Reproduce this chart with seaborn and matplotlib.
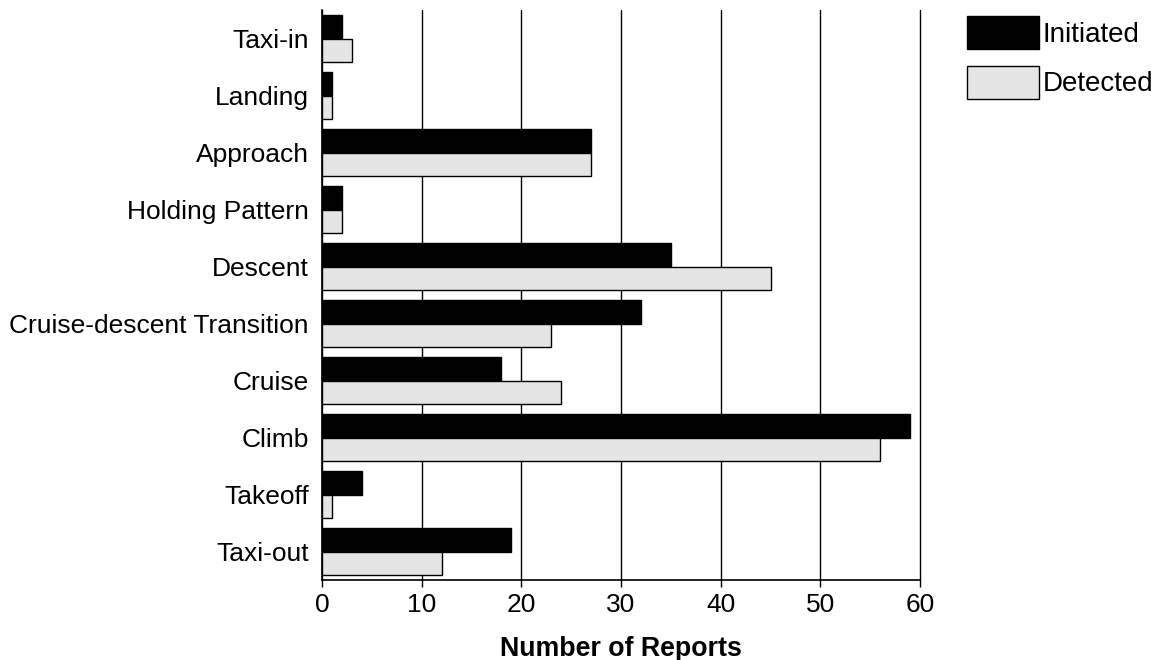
import matplotlib
matplotlib.use("Agg")
import matplotlib.pyplot as plt
import seaborn as sns
import pandas as pd
from matplotlib.patches import Patch

phases = ["Taxi-in", "Landing", "Approach", "Holding Pattern", "Descent",
          "Cruise-descent Transition", "Cruise", "Climb", "Takeoff", "Taxi-out"]
initiated = [2, 1, 27, 2, 35, 32, 18, 59, 4, 19]
detected = [3, 1, 27, 2, 45, 23, 24, 56, 1, 12]
series = ["Initiated", "Detected"]
colors = ["#000000", "#e5e5e5"]

df = pd.DataFrame({
    "Phase": phases * 2,
    "Reports": initiated + detected,
    "Type": ["Initiated"] * len(phases) + ["Detected"] * len(phases),
})

sns.set_style("white")
plt.rcParams["font.family"] = ["Liberation Sans", "DejaVu Sans"]
plt.rcParams["text.color"] = "black"
plt.rcParams["xtick.color"] = "black"
plt.rcParams["ytick.color"] = "black"
plt.rcParams["axes.labelcolor"] = "black"

fig = plt.figure(figsize=(11.61, 6.6), dpi=100)
ax = fig.add_axes([322 / 1161, 1 - 580 / 660, (920 - 322) / 1161, 570 / 660])

sns.barplot(data=df, y="Phase", x="Reports", hue="Type", order=phases,
            hue_order=series, palette=colors, orient="h", width=0.82,
            edgecolor="black", linewidth=1.0, saturation=1, ax=ax, legend=False,
            zorder=3)

ax.set_xlim(0, 60)
ax.set_ylim(len(phases) - 0.5, -0.5)
ax.set_xticks(range(0, 61, 10))
ax.xaxis.grid(True, color="black", linewidth=1.0, zorder=0)
for gl in ax.get_xgridlines():
    gl.set_clip_on(False)
ax.set_axisbelow(True)
for s in ["top", "right"]:
    ax.spines[s].set_visible(False)
for s in ["left", "bottom"]:
    ax.spines[s].set_color("black")
    ax.spines[s].set_linewidth(1.2)
ax.tick_params(axis="x", which="both", bottom=True, length=5, width=1,
               labelsize=19, pad=4, color="black")
ax.tick_params(axis="y", left=False, labelsize=19, pad=6)
ax.set_ylabel("")
ax.set_xlabel("Number of Reports", fontsize=19.3, fontweight="bold", labelpad=14)

handles = [Patch(facecolor=c, edgecolor="black", linewidth=1.0) for c in colors]
fig.legend(handles, series, loc="upper left", bbox_to_anchor=(967 / 1161, 1 - 16 / 660),
           frameon=False, fontsize=20, handlelength=2.6, handleheight=1.45,
           handletextpad=0.12, labelspacing=0.6, borderaxespad=0, borderpad=0)

fig.savefig("out.png", dpi=100)
